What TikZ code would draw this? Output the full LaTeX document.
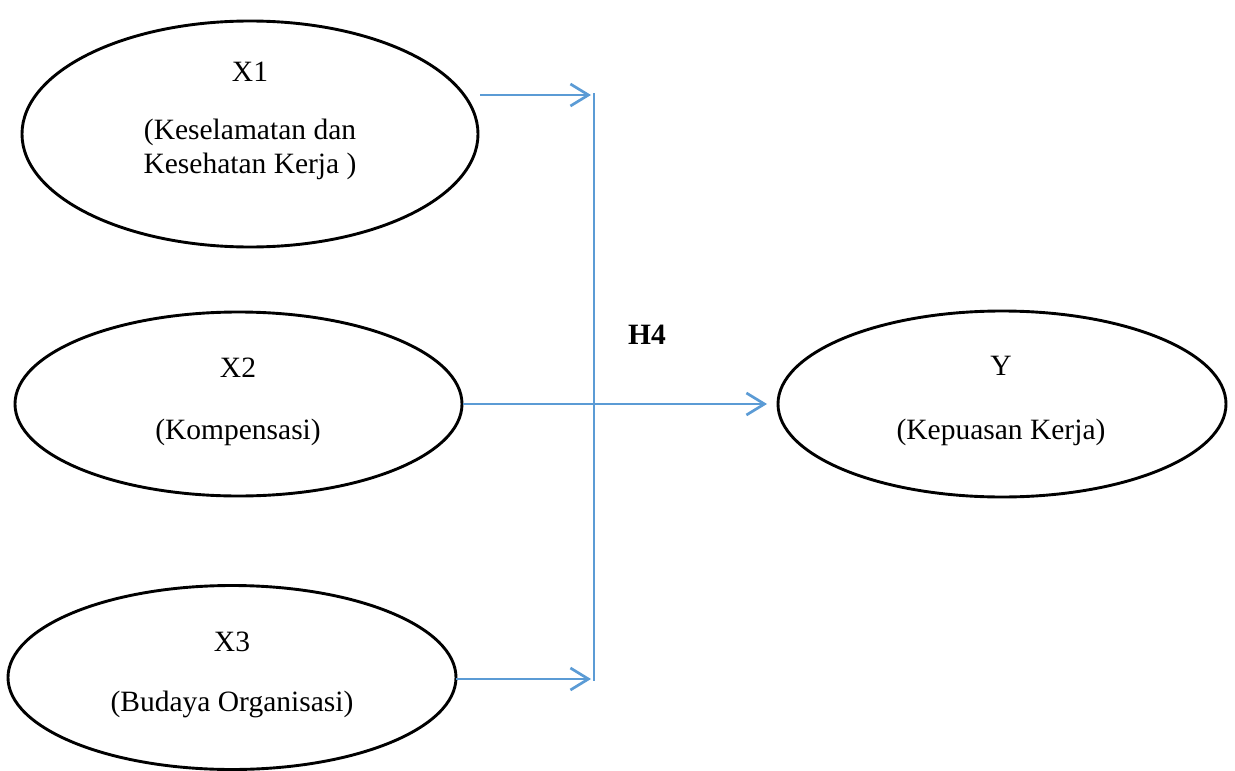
\documentclass[tikz,border=0pt]{standalone}
\usepackage{fontspec}
\setmainfont{Liberation Serif}
\usetikzlibrary{shapes.geometric,arrows.meta}
\definecolor{lineblue}{HTML}{5B9BD5}
\tikzset{
  var/.style={draw=black,line width=2.9pt,ellipse,inner sep=0pt},
  lbl/.style={font=\fontsize{29.5}{35}\selectfont,inner sep=0pt,anchor=center},
  conn/.style={draw=lineblue,line width=2.7pt,-{Straight Barb[length=18pt,width=22pt,line width=2.7pt]}},
  bar/.style={draw=lineblue,line width=1.6pt}
}
\begin{document}
\begin{tikzpicture}[x=1pt,y=-1pt]
\useasboundingbox (0,0) rectangle (1235,771);
\node[var,minimum width=456pt,minimum height=226pt] (x1) at (250,134) {};
\node[var,minimum width=447pt,minimum height=184pt] (x2) at (238.5,404) {};
\node[var,minimum width=448pt,minimum height=184pt] (x3) at (232,677.5) {};
\node[var,minimum width=448pt,minimum height=186pt] (y) at (1002,404) {};
\node[lbl] (x1a) at (250,72) {X1};
\node[lbl] (x1b) at (250,132) {(Keselamatan dan};
\node[lbl] (x1c) at (250,166) {Kesehatan Kerja )};
\node[lbl] (x2a) at (238,368) {X2};
\node[lbl] (x2b) at (238,432) {(Kompensasi)};
\node[lbl] (x3a) at (232,642) {X3};
\node[lbl] (x3b) at (232,704) {(Budaya Organisasi)};
\node[lbl] (ya) at (1001,366) {Y};
\node[lbl] (yb) at (1001,432) {(Kepuasan Kerja)};
\node[lbl,font=\bfseries\fontsize{29.5}{35}\selectfont] (h4) at (647,335) {H4};
\coordinate (s1) at (480,95);
\coordinate (e1) at (591,95);
\coordinate (s3) at (456,679);
\coordinate (e3) at (591,679);
\coordinate (bt) at (594,93);
\coordinate (bb) at (594,681);
\coordinate (ye) at (767,404);
\draw[bar] (bt) -- (bb);
\draw[conn] (s1) -- (e1);
\draw[conn] (s3) -- (e3);
\draw[conn] (x2.east) -- (ye);
\end{tikzpicture}
\end{document}
